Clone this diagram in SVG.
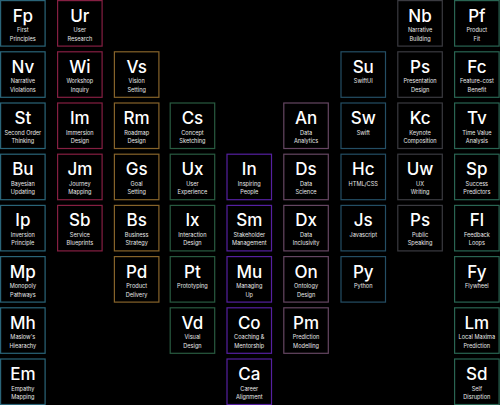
<svg xmlns="http://www.w3.org/2000/svg" width="500" height="405" viewBox="0 0 500 405">
<style>
.bg{fill:#000}
rect.c{fill:#000;stroke-width:1.2}
.s{font-family:Inter,"Open Sans",sans-serif;font-size:17px;font-weight:500;fill:#fff;text-anchor:middle}
.l{font-family:Inter,"Open Sans",sans-serif;font-size:5.6px;fill:#e8e8e8;text-anchor:middle}
.k0{stroke:#2a6478}.k1{stroke:#851f42}.k2{stroke:#86632a}.k3{stroke:#285a40}.k4{stroke:#5520a0}.k5{stroke:#654662}.k6{stroke:#244e64}.k7{stroke:#3a3a40}.k8{stroke:#296452}
</style>
<rect class="bg" x="0" y="0" width="500" height="405"/>
<!-- col0 -->
<g id="Fp" transform="translate(0.6,0.6)"><rect class="c k0" width="44.5" height="45.5"/><text class="s" x="22.25" y="21">Fp</text><text class="l" x="22.25" y="31.5">First</text><text class="l" x="22.25" y="40">Principles</text></g>
<g id="Nv" transform="translate(0.6,51.8)"><rect class="c k0" width="44.5" height="45.5"/><text class="s" x="22.25" y="21">Nv</text><text class="l" x="22.25" y="31.5">Narrative</text><text class="l" x="22.25" y="40">Violations</text></g>
<g id="St" transform="translate(0.6,103)"><rect class="c k0" width="44.5" height="45.5"/><text class="s" x="22.25" y="21">St</text><text class="l" x="22.25" y="31.5">Second Order</text><text class="l" x="22.25" y="40">Thinking</text></g>
<g id="Bu" transform="translate(0.6,154.2)"><rect class="c k0" width="44.5" height="45.5"/><text class="s" x="22.25" y="21">Bu</text><text class="l" x="22.25" y="31.5">Bayesian</text><text class="l" x="22.25" y="40">Updating</text></g>
<g id="Ip" transform="translate(0.6,205.4)"><rect class="c k0" width="44.5" height="45.5"/><text class="s" x="22.25" y="21">Ip</text><text class="l" x="22.25" y="31.5">Inversion</text><text class="l" x="22.25" y="40">Principle</text></g>
<g id="Mp" transform="translate(0.6,256.6)"><rect class="c k0" width="44.5" height="45.5"/><text class="s" x="22.25" y="21">Mp</text><text class="l" x="22.25" y="31.5">Monopoly</text><text class="l" x="22.25" y="40">Pathways</text></g>
<g id="Mh" transform="translate(0.6,307.8)"><rect class="c k0" width="44.5" height="45.5"/><text class="s" x="22.25" y="21">Mh</text><text class="l" x="22.25" y="31.5">Maslow's</text><text class="l" x="22.25" y="40">Hiearachy</text></g>
<g id="Em" transform="translate(0.6,359)"><rect class="c k0" width="44.5" height="45.5"/><text class="s" x="22.25" y="21">Em</text><text class="l" x="22.25" y="31.5">Empathy</text><text class="l" x="22.25" y="40">Mapping</text></g>
<!-- col1 -->
<g id="Ur" transform="translate(57.6,0.6)"><rect class="c k1" width="44.5" height="45.5"/><text class="s" x="22.25" y="21">Ur</text><text class="l" x="22.25" y="31.5">User</text><text class="l" x="22.25" y="40">Research</text></g>
<g id="Wi" transform="translate(57.6,51.8)"><rect class="c k1" width="44.5" height="45.5"/><text class="s" x="22.25" y="21">Wi</text><text class="l" x="22.25" y="31.5">Workshop</text><text class="l" x="22.25" y="40">Inquiry</text></g>
<g id="Im" transform="translate(57.6,103)"><rect class="c k1" width="44.5" height="45.5"/><text class="s" x="22.25" y="21">Im</text><text class="l" x="22.25" y="31.5">Immersion</text><text class="l" x="22.25" y="40">Design</text></g>
<g id="Jm" transform="translate(57.6,154.2)"><rect class="c k1" width="44.5" height="45.5"/><text class="s" x="22.25" y="21">Jm</text><text class="l" x="22.25" y="31.5">Journey</text><text class="l" x="22.25" y="40">Mapping</text></g>
<g id="Sb" transform="translate(57.6,205.4)"><rect class="c k1" width="44.5" height="45.5"/><text class="s" x="22.25" y="21">Sb</text><text class="l" x="22.25" y="31.5">Service</text><text class="l" x="22.25" y="40">Blueprints</text></g>
<!-- col2 -->
<g id="Vs" transform="translate(114.4,51.8)"><rect class="c k2" width="44.5" height="45.5"/><text class="s" x="22.25" y="21">Vs</text><text class="l" x="22.25" y="31.5">Vision</text><text class="l" x="22.25" y="40">Setting</text></g>
<g id="Rm" transform="translate(114.4,103)"><rect class="c k2" width="44.5" height="45.5"/><text class="s" x="22.25" y="21">Rm</text><text class="l" x="22.25" y="31.5">Roadmap</text><text class="l" x="22.25" y="40">Design</text></g>
<g id="Gs" transform="translate(114.4,154.2)"><rect class="c k2" width="44.5" height="45.5"/><text class="s" x="22.25" y="21">Gs</text><text class="l" x="22.25" y="31.5">Goal</text><text class="l" x="22.25" y="40">Setting</text></g>
<g id="Bs" transform="translate(114.4,205.4)"><rect class="c k2" width="44.5" height="45.5"/><text class="s" x="22.25" y="21">Bs</text><text class="l" x="22.25" y="31.5">Business</text><text class="l" x="22.25" y="40">Strategy</text></g>
<g id="Pd" transform="translate(114.4,256.6)"><rect class="c k2" width="44.5" height="45.5"/><text class="s" x="22.25" y="21">Pd</text><text class="l" x="22.25" y="31.5">Product</text><text class="l" x="22.25" y="40">Delivery</text></g>
<!-- col3 -->
<g id="Cs" transform="translate(170.2,103)"><rect class="c k3" width="44.5" height="45.5"/><text class="s" x="22.25" y="21">Cs</text><text class="l" x="22.25" y="31.5">Concept</text><text class="l" x="22.25" y="40">Sketching</text></g>
<g id="Ux" transform="translate(170.2,154.2)"><rect class="c k3" width="44.5" height="45.5"/><text class="s" x="22.25" y="21">Ux</text><text class="l" x="22.25" y="31.5">User</text><text class="l" x="22.25" y="40">Experience</text></g>
<g id="Ix" transform="translate(170.2,205.4)"><rect class="c k3" width="44.5" height="45.5"/><text class="s" x="22.25" y="21">Ix</text><text class="l" x="22.25" y="31.5">Interaction</text><text class="l" x="22.25" y="40">Design</text></g>
<g id="Pt" transform="translate(170.2,256.6)"><rect class="c k3" width="44.5" height="45.5"/><text class="s" x="22.25" y="21">Pt</text><text class="l" x="22.25" y="31.5">Prototyping</text></g>
<g id="Vd" transform="translate(170.2,307.8)"><rect class="c k3" width="44.5" height="45.5"/><text class="s" x="22.25" y="21">Vd</text><text class="l" x="22.25" y="31.5">Visual</text><text class="l" x="22.25" y="40">Design</text></g>
<!-- col4 -->
<g id="In" transform="translate(227,154.2)"><rect class="c k4" width="44.5" height="45.5"/><text class="s" x="22.25" y="21">In</text><text class="l" x="22.25" y="31.5">Inspiring</text><text class="l" x="22.25" y="40">People</text></g>
<g id="Sm" transform="translate(227,205.4)"><rect class="c k4" width="44.5" height="45.5"/><text class="s" x="22.25" y="21">Sm</text><text class="l" x="22.25" y="31.5">Stakeholder</text><text class="l" x="22.25" y="40">Management</text></g>
<g id="Mu" transform="translate(227,256.6)"><rect class="c k4" width="44.5" height="45.5"/><text class="s" x="22.25" y="21">Mu</text><text class="l" x="22.25" y="31.5">Managing</text><text class="l" x="22.25" y="40">Up</text></g>
<g id="Co" transform="translate(227,307.8)"><rect class="c k4" width="44.5" height="45.5"/><text class="s" x="22.25" y="21">Co</text><text class="l" x="22.25" y="31.5">Coaching &amp;</text><text class="l" x="22.25" y="40">Mentorship</text></g>
<g id="Ca" transform="translate(227,359)"><rect class="c k4" width="44.5" height="45.5"/><text class="s" x="22.25" y="21">Ca</text><text class="l" x="22.25" y="31.5">Career</text><text class="l" x="22.25" y="40">Alignment</text></g>
<!-- col5 -->
<g id="An" transform="translate(283.8,103)"><rect class="c k5" width="44.5" height="45.5"/><text class="s" x="22.25" y="21">An</text><text class="l" x="22.25" y="31.5">Data</text><text class="l" x="22.25" y="40">Analytics</text></g>
<g id="Ds" transform="translate(283.8,154.2)"><rect class="c k5" width="44.5" height="45.5"/><text class="s" x="22.25" y="21">Ds</text><text class="l" x="22.25" y="31.5">Data</text><text class="l" x="22.25" y="40">Science</text></g>
<g id="Dx" transform="translate(283.8,205.4)"><rect class="c k5" width="44.5" height="45.5"/><text class="s" x="22.25" y="21">Dx</text><text class="l" x="22.25" y="31.5">Data</text><text class="l" x="22.25" y="40">Inclusivity</text></g>
<g id="On" transform="translate(283.8,256.6)"><rect class="c k5" width="44.5" height="45.5"/><text class="s" x="22.25" y="21">On</text><text class="l" x="22.25" y="31.5">Ontology</text><text class="l" x="22.25" y="40">Design</text></g>
<g id="Pm" transform="translate(283.8,307.8)"><rect class="c k5" width="44.5" height="45.5"/><text class="s" x="22.25" y="21">Pm</text><text class="l" x="22.25" y="31.5">Prediction</text><text class="l" x="22.25" y="40">Modelling</text></g>
<!-- col6 -->
<g id="Su" transform="translate(341,51.8)"><rect class="c k6" width="44.5" height="45.5"/><text class="s" x="22.25" y="21">Su</text><text class="l" x="22.25" y="31.5">SwiftUI</text></g>
<g id="Sw" transform="translate(341,103)"><rect class="c k6" width="44.5" height="45.5"/><text class="s" x="22.25" y="21">Sw</text><text class="l" x="22.25" y="31.5">Swift</text></g>
<g id="Hc" transform="translate(341,154.2)"><rect class="c k6" width="44.5" height="45.5"/><text class="s" x="22.25" y="21">Hc</text><text class="l" x="22.25" y="31.5">HTML/CSS</text></g>
<g id="Js" transform="translate(341,205.4)"><rect class="c k6" width="44.5" height="45.5"/><text class="s" x="22.25" y="21">Js</text><text class="l" x="22.25" y="31.5">Javascript</text></g>
<g id="Py" transform="translate(341,256.6)"><rect class="c k6" width="44.5" height="45.5"/><text class="s" x="22.25" y="21">Py</text><text class="l" x="22.25" y="31.5">Python</text></g>
<!-- col7 -->
<g id="Nb" transform="translate(397.8,0.6)"><rect class="c k7" width="44.5" height="45.5"/><text class="s" x="22.25" y="21">Nb</text><text class="l" x="22.25" y="31.5">Narrative</text><text class="l" x="22.25" y="40">Building</text></g>
<g id="Ps1" transform="translate(397.8,51.8)"><rect class="c k7" width="44.5" height="45.5"/><text class="s" x="22.25" y="21">Ps</text><text class="l" x="22.25" y="31.5">Presentation</text><text class="l" x="22.25" y="40">Design</text></g>
<g id="Kc" transform="translate(397.8,103)"><rect class="c k7" width="44.5" height="45.5"/><text class="s" x="22.25" y="21">Kc</text><text class="l" x="22.25" y="31.5">Keynote</text><text class="l" x="22.25" y="40">Composition</text></g>
<g id="Uw" transform="translate(397.8,154.2)"><rect class="c k7" width="44.5" height="45.5"/><text class="s" x="22.25" y="21">Uw</text><text class="l" x="22.25" y="31.5">UX</text><text class="l" x="22.25" y="40">Writing</text></g>
<g id="Ps2" transform="translate(397.8,205.4)"><rect class="c k7" width="44.5" height="45.5"/><text class="s" x="22.25" y="21">Ps</text><text class="l" x="22.25" y="31.5">Public</text><text class="l" x="22.25" y="40">Speaking</text></g>
<!-- col8 -->
<g id="Pf" transform="translate(454.6,0.6)"><rect class="c k8" width="44.5" height="45.5"/><text class="s" x="22.25" y="21">Pf</text><text class="l" x="22.25" y="31.5">Product</text><text class="l" x="22.25" y="40">Fit</text></g>
<g id="Fc" transform="translate(454.6,51.8)"><rect class="c k8" width="44.5" height="45.5"/><text class="s" x="22.25" y="21">Fc</text><text class="l" x="22.25" y="31.5">Feature-cost</text><text class="l" x="22.25" y="40">Benefit</text></g>
<g id="Tv" transform="translate(454.6,103)"><rect class="c k8" width="44.5" height="45.5"/><text class="s" x="22.25" y="21">Tv</text><text class="l" x="22.25" y="31.5">Time Value</text><text class="l" x="22.25" y="40">Analysis</text></g>
<g id="Sp" transform="translate(454.6,154.2)"><rect class="c k8" width="44.5" height="45.5"/><text class="s" x="22.25" y="21">Sp</text><text class="l" x="22.25" y="31.5">Success</text><text class="l" x="22.25" y="40">Predictors</text></g>
<g id="Fl" transform="translate(454.6,205.4)"><rect class="c k8" width="44.5" height="45.5"/><text class="s" x="22.25" y="21">Fl</text><text class="l" x="22.25" y="31.5">Feedback</text><text class="l" x="22.25" y="40">Loops</text></g>
<g id="Fy" transform="translate(454.6,256.6)"><rect class="c k8" width="44.5" height="45.5"/><text class="s" x="22.25" y="21">Fy</text><text class="l" x="22.25" y="31.5">Flywheel</text></g>
<g id="Lm" transform="translate(454.6,307.8)"><rect class="c k8" width="44.5" height="45.5"/><text class="s" x="22.25" y="21">Lm</text><text class="l" x="22.25" y="31.5">Local Maxima</text><text class="l" x="22.25" y="40">Prediction</text></g>
<g id="Sd" transform="translate(454.6,359)"><rect class="c k8" width="44.5" height="45.5"/><text class="s" x="22.25" y="21">Sd</text><text class="l" x="22.25" y="31.5">Self</text><text class="l" x="22.25" y="40">Disruption</text></g>
<g id="connectors"/>
</svg>
